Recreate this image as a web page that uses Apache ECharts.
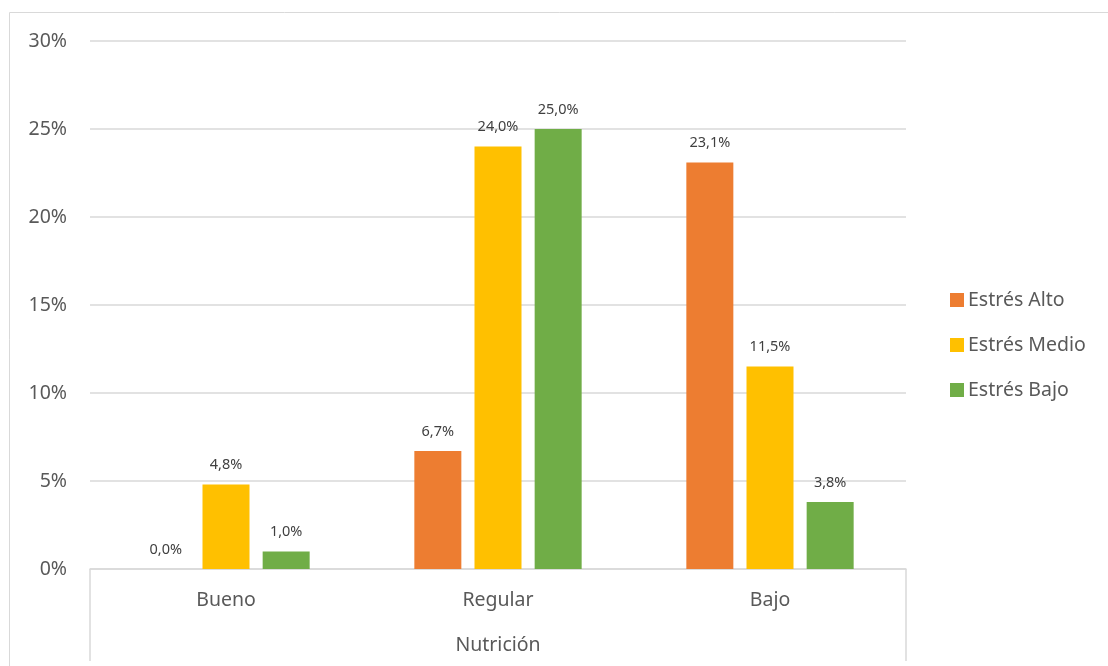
<!DOCTYPE html>
<html>
<head>
<meta charset="utf-8">
<script src="https://cdn.jsdelivr.net/npm/echarts@6/dist/echarts.min.js"></script>
<style>html,body{margin:0;padding:0;background:#fff}#c{width:1108px;height:666px}</style>
</head>
<body>
<div id="c"></div>
<script>
const categories = ['Bueno', 'Regular', 'Bajo'];
const seriesNames = ['Estrés Alto', 'Estrés Medio', 'Estrés Bajo'];
const estresAlto = [0.0, 6.7, 23.1];
const estresMedio = [4.8, 24.0, 11.5];
const estresBajo = [1.0, 25.0, 3.8];
const yTicks = [0, 5, 10, 15, 20, 25, 30];
const axisTitle = 'Nutrición';
const colors = ['#ED7D31', '#FFC000', '#70AD47'];

const FONT = '"Noto Sans", "Open Sans", sans-serif';
const chart = echarts.init(document.getElementById('c'));
const values = [estresAlto, estresMedio, estresBajo];
chart.setOption({
  animation: false,
  textStyle: { fontFamily: FONT },
  graphic: [{
    type: 'rect', shape: { x: 9.5, y: 12.5, width: 1200, height: 700 },
    style: { fill: 'none', stroke: '#d9d9d9', lineWidth: 1 }, silent: true, z: -1
  }],
  legend: {
    orient: 'vertical', left: 945, top: 285, itemWidth: 14, itemHeight: 14, itemGap: 25,
    icon: 'rect',
    textStyle: { fontFamily: FONT, fontSize: 19.5, color: '#595959', padding: [0, 0, 0, -1] },
    data: seriesNames
  },
  grid: { left: 90, right: 202, top: 41, bottom: 97, containLabel: false },
  xAxis: [{
    type: 'category', data: categories,
    axisLine: { lineStyle: { color: '#d9d9d9', width: 1.5 } },
    axisTick: { show: false },
    axisLabel: { fontFamily: FONT, fontSize: 19.5, color: '#595959', margin: 21 }
  }, {
    type: 'category', data: [axisTitle], position: 'bottom',
    axisLine: { show: false },
    axisTick: { show: true, length: 92, lineStyle: { color: '#d9d9d9', width: 1.5 } },
    axisLabel: { fontFamily: FONT, fontSize: 19.5, color: '#595959', margin: 66 }
  }],
  yAxis: {
    type: 'value', min: yTicks[0], max: yTicks[yTicks.length - 1], interval: 5,
    axisLine: { show: false }, axisTick: { show: false },
    splitLine: { lineStyle: { color: '#d9d9d9', width: 1.5 } },
    axisLabel: { fontFamily: FONT, fontSize: 19.5, color: '#595959', margin: 23, formatter: v => v + '%' }
  },
  series: seriesNames.map((n, i) => ({
    name: n, type: 'bar', xAxisIndex: 0, data: values[i],
    barWidth: 47, barGap: '28%',
    itemStyle: { color: colors[i] },
    label: {
      show: true, position: 'top', distance: 12, fontFamily: FONT, fontSize: 14.5, color: '#404040',
      formatter: p => p.value.toFixed(1).replace('.', ',') + '%'
    }
  }))
});
</script>
</body>
</html>
